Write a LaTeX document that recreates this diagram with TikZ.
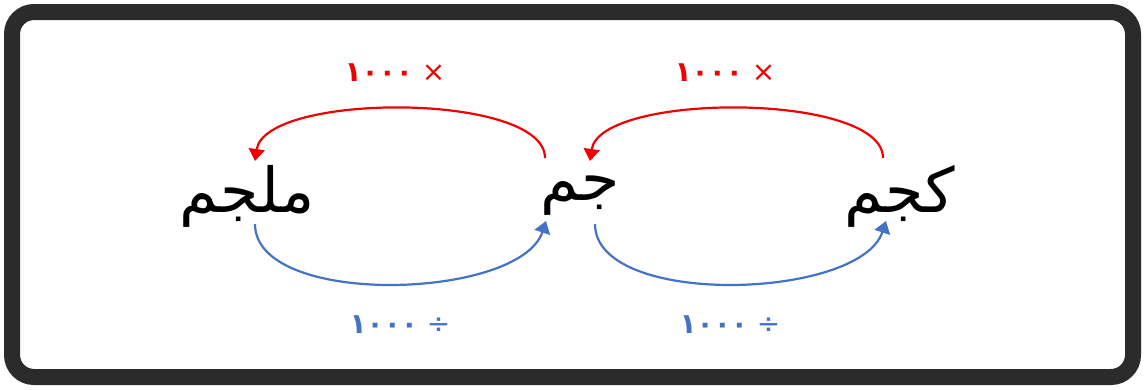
\documentclass[tikz,border=0pt]{standalone}
\usepackage{fontspec}
\usetikzlibrary{arrows.meta}
\TeXXeTstate=1
\newfontfamily\arabicfont[Script=Arabic]{DejaVu Sans}
\definecolor{framegray}{HTML}{2B2B2B}
\definecolor{arrred}{HTML}{F00000}
\definecolor{arrblue}{HTML}{4472C4}
\newcommand{\oplbl}[1]{\beginR{\mdseries #1}\ \beginL\bfseries ١٠٠٠\endL\endR}
\begin{document}
\begin{tikzpicture}[x=1pt,y=-1pt,
  word/.style={font=\arabicfont\fontsize{62}{66}\selectfont, inner sep=0pt},
  redlbl/.style={text=arrred, font=\arabicfont\fontsize{28}{32}\selectfont, inner sep=0pt},
  bluelbl/.style={text=arrblue, font=\arabicfont\fontsize{28}{32}\selectfont, inner sep=0pt},
  redarr/.style={draw=arrred, line width=2.2pt, -{Triangle[width=16pt,length=12pt]}},
  bluearr/.style={draw=arrblue, line width=2.2pt, -{Triangle[width=16pt,length=12pt]}}]
\useasboundingbox (0,0) rectangle (1145,389);
\draw[framegray, line width=16pt, rounded corners=22pt] (12,12) rectangle (1133,377);
\node[word] (mg) at (247,196) {\beginR ملجم\endR};
\node[word] (g) at (580,196) {\beginR جم\endR};
\node[word] (kg) at (900,196) {\beginR كجم\endR};
\coordinate (r1s) at (883,158);
\coordinate (r1e) at (590,161);
\coordinate (r2s) at (545,158);
\coordinate (r2e) at (255,161);
\coordinate (b1s) at (255,224);
\coordinate (b1e) at (546,221);
\coordinate (b2s) at (595,224);
\coordinate (b2e) at (886,221);
\draw[redarr] (r1s) .. controls (883,92) and (600,92) .. (r1e);
\draw[redarr] (r2s) .. controls (545,92) and (265,92) .. (r2e);
\draw[bluearr] (b1s) .. controls (255,308) and (520,300) .. (b1e);
\draw[bluearr] (b2s) .. controls (595,308) and (860,300) .. (b2e);
\node[redlbl] (l1) at (395,73) {\oplbl{×}};
\node[redlbl] (l2) at (725,73) {\oplbl{×}};
\node[bluelbl] (l3) at (400,325) {\oplbl{÷}};
\node[bluelbl] (l4) at (730,325) {\oplbl{÷}};
\end{tikzpicture}
\end{document}
